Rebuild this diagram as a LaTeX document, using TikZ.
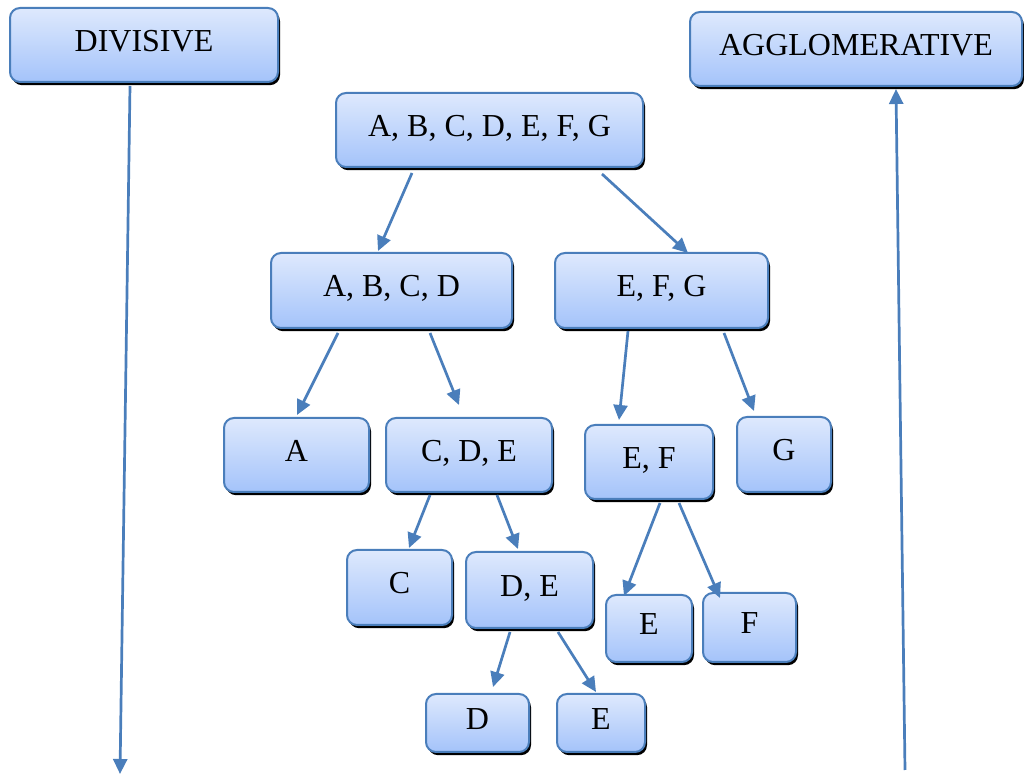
\documentclass[tikz,border=0pt]{standalone}
\usepackage{fontspec}
\setmainfont{Liberation Serif}
\usetikzlibrary{arrows.meta,shadows}
\definecolor{bordblue}{HTML}{4A7EBB}
\definecolor{topblue}{HTML}{DEE9FD}
\definecolor{botblue}{HTML}{A4C3FA}
\begin{document}
\begin{tikzpicture}[x=0.5pt,y=-0.5pt,
  clbox/.style={draw=bordblue, line width=1pt, rounded corners=5pt,
    top color=topblue, bottom color=botblue, inner sep=0pt,
    font=\fontsize{16}{19}\selectfont,
    text height=0.662em, text depth=0.04em,
    drop shadow={shadow xshift=1pt, shadow yshift=-1.6pt, fill=black, opacity=1}},
  wh/.style 2 args={minimum width=#1*0.5pt, minimum height=#2*0.5pt},
  arr/.style={draw=bordblue, line width=1.35pt,
    -{Triangle[length=7.5pt,width=7pt]}}]
\useasboundingbox (0,0) rectangle (1024,774);

\node[clbox, wh={268}{74}] (div) at (144,45) {DIVISIVE};
\node[clbox, wh={332}{74}] (agg) at (856,49) {AGGLOMERATIVE};
\node[clbox, wh={307}{74}] (all) at (489.5,130) {A, B, C, D, E, F, G};
\node[clbox, wh={241}{75}] (abcd) at (391.5,290.5) {A, B, C, D};
\node[clbox, wh={213}{75}] (efg) at (661.5,290.5) {E, F, G};
\node[clbox, wh={145}{74}] (a) at (296.5,455) {A};
\node[clbox, wh={166}{74}] (cde) at (469,455) {C, D, E};
\node[clbox, wh={128}{74}] (ef) at (649,462) {E, F};
\node[clbox, wh={94}{75}] (g) at (784,454.5) {G};
\node[clbox, wh={105}{75}] (c) at (399.5,587.5) {C};
\node[clbox, wh={127}{76}] (de) at (529.5,590) {D, E};
\node[clbox, wh={86}{67}] (e1) at (649,628.5) {E};
\node[clbox, wh={93}{69}] (f) at (749.5,627.5) {F};
\node[clbox, wh={103}{58}] (d) at (477.5,723) {D};
\node[clbox, wh={88}{58}] (e2) at (601,723) {E};

\coordinate (divend) at (120,774);
\coordinate (aggstart) at (905,770);

\draw[arr] ([shift={(-14,3)}]div.south) -- (divend);
\draw[arr] (aggstart) -- ([shift={(40,2)}]agg.south);

\draw[arr] ([shift={(-77.5,5)}]all.south) -- ([shift={(-13.5,-1)}]abcd.north);
\draw[arr] ([shift={(112.5,6)}]all.south) -- ([shift={(26.5,1)}]efg.north);
\draw[arr] ([shift={(-53.5,4)}]abcd.south) -- ([shift={(0.5,-2)}]a.north);
\draw[arr] ([shift={(38.5,4)}]abcd.south) -- ([shift={(-10,-12)}]cde.north);
\draw[arr] ([shift={(-33.5,2)}]efg.south) -- ([shift={(-30,-4)}]ef.north);
\draw[arr] ([shift={(62.5,4)}]efg.south) -- ([shift={(-30,-5)}]g.north);
\draw[arr] ([shift={(-39,2)}]cde.south) -- ([shift={(9.5,-1)}]c.north);
\draw[arr] ([shift={(28,2)}]cde.south) -- ([shift={(-11.5,-2)}]de.north);
\draw[arr] ([shift={(11,3)}]ef.south) -- ([shift={(-25,2)}]e1.north);
\draw[arr] ([shift={(30,3)}]ef.south) -- ([shift={(-29.5,6)}]f.north);
\draw[arr] ([shift={(-19.5,3)}]de.south) -- ([shift={(15.5,-6)}]d.north);
\draw[arr] ([shift={(28.5,3)}]de.south) -- ([shift={(-5,-1)}]e2.north);
\end{tikzpicture}
\end{document}
